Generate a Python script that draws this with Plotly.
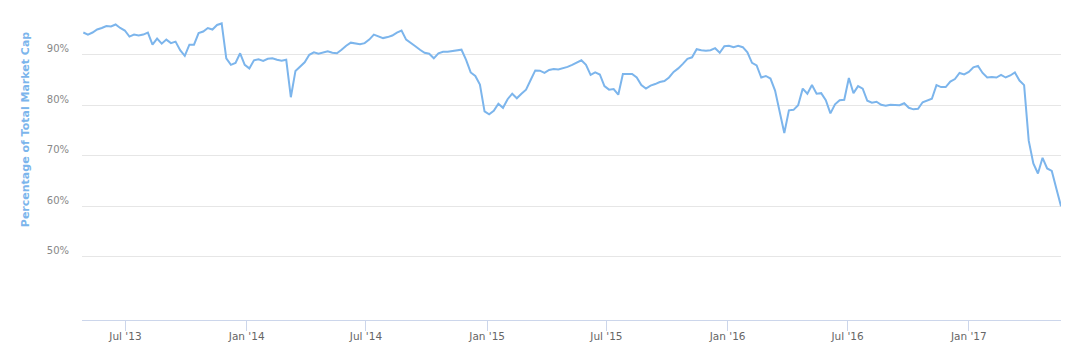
import pandas as pd
import plotly.graph_objects as go

# Weekly readings of Bitcoin's share of total crypto market cap (%)
start_date = "2013-04-28"
range_start = "2013-04-26"
dominance = [
    94.4, 94.0, 94.4, 95.0, 95.3, 95.7, 95.6, 96.0, 95.3, 94.8,
    93.6, 94.0, 93.8, 94.0, 94.4, 92.0, 93.2, 92.2, 93.0, 92.3,
    92.6, 90.9, 89.8, 92.0, 92.0, 94.3, 94.6, 95.3, 95.0, 95.9,
    96.2, 89.3, 88.0, 88.4, 90.3, 88.0, 87.3, 88.9, 89.1, 88.8,
    89.2, 89.3, 89.0, 88.8, 89.0, 81.6, 86.8, 87.7, 88.5, 90.0,
    90.5, 90.2, 90.5, 90.7, 90.4, 90.3, 91.0, 91.8, 92.4, 92.3,
    92.1, 92.3, 93.0, 94.0, 93.6, 93.3, 93.5, 93.8, 94.4, 94.8,
    93.0, 92.4, 91.7, 91.0, 90.4, 90.2, 89.3, 90.3, 90.6, 90.6,
    90.7, 90.8, 91.0, 89.0, 86.5, 85.8, 84.1, 78.8, 78.2, 78.9,
    80.3, 79.5, 81.2, 82.3, 81.4, 82.3, 83.1, 85.0, 86.9, 86.85,
    86.4, 87.0, 87.2, 87.1, 87.3, 87.6, 88.0, 88.4, 88.9, 88.0,
    86.0, 86.5, 86.1, 83.8, 83.1, 83.2, 82.1, 86.2, 86.2, 86.2,
    85.5, 84.0, 83.3, 83.9, 84.2, 84.6, 84.8, 85.5, 86.6, 87.3,
    88.2, 89.2, 89.5, 91.1, 90.9, 90.8, 90.9, 91.3, 90.4, 91.7,
    91.8, 91.5, 91.8, 91.5, 90.5, 88.4, 87.9, 85.5, 85.8, 85.3,
    82.9, 78.8, 74.5, 79.0, 79.1, 80.0, 83.3, 82.3, 84.0, 82.3,
    82.4, 81.0, 78.4, 80.2, 81.0, 81.1, 85.4, 82.4, 83.8, 83.3,
    80.9, 80.5, 80.7, 80.1, 79.9, 80.1, 80.0, 80.0, 80.4, 79.5,
    79.2, 79.3, 80.6, 80.9, 81.3, 84.0, 83.6, 83.6, 84.7, 85.2,
    86.4, 86.1, 86.6, 87.5, 87.8, 86.4, 85.5, 85.6, 85.5, 86.0,
    85.5, 85.9, 86.5, 84.9, 84.0, 73.0, 68.5, 66.5, 69.6, 67.5,
    67.0, 63.5, 60.0,
]
dates = pd.date_range(start=start_date, periods=len(dominance), freq="7D")

y_tick_values = [50, 60, 70, 80, 90, 100]
y_tick_labels = ["50%", "60%", "70%", "80%", "90%", ""]
y_title = "Percentage of Total Market Cap"

line_color = "#7cb5ec"

fig = go.Figure()
fig.add_trace(go.Scatter(
    x=dates, y=dominance, mode="lines",
    line=dict(color=line_color, width=2),
    hoverinfo="skip", showlegend=False,
))

fig.update_layout(
    width=1074, height=362,
    margin=dict(l=82, r=13, t=4, b=42),
    paper_bgcolor="white", plot_bgcolor="white",
    font=dict(family="DejaVu Sans", color="#666666"),
    xaxis=dict(
        type="date",
        range=[range_start, dates[-1]],
        tick0="2013-07-01", dtick="M6",
        tickformat="%b '%y",
        ticks="outside", ticklen=10, tickcolor="#ccd6eb", tickwidth=1,
        showline=True, linecolor="#ccd6eb", linewidth=1,
        showgrid=False, zeroline=False,
        tickfont=dict(size=10.5, color="#666666"),
        ticklabelstandoff=-4,
        fixedrange=True,
    ),
    yaxis=dict(
        range=[37.5, 100.05],
        tickvals=y_tick_values, ticktext=y_tick_labels,
        showgrid=True, gridcolor="#e6e6e6", gridwidth=1,
        zeroline=False, showline=False, ticks="",
        tickfont=dict(size=10, color="#888888"),
        ticklabelstandoff=12, ticklabelshift=-6,
        fixedrange=True,
    ),
    annotations=[dict(
        text="<b>" + y_title + "</b>", textangle=-90,
        xref="paper", yref="paper",
        x=-0.0582, y=0.604, xanchor="center", yanchor="middle",
        showarrow=False,
        font=dict(family="DejaVu Sans", size=11, color=line_color),
    )],
)

fig.write_html("out.html", config={"displayModeBar": False})
